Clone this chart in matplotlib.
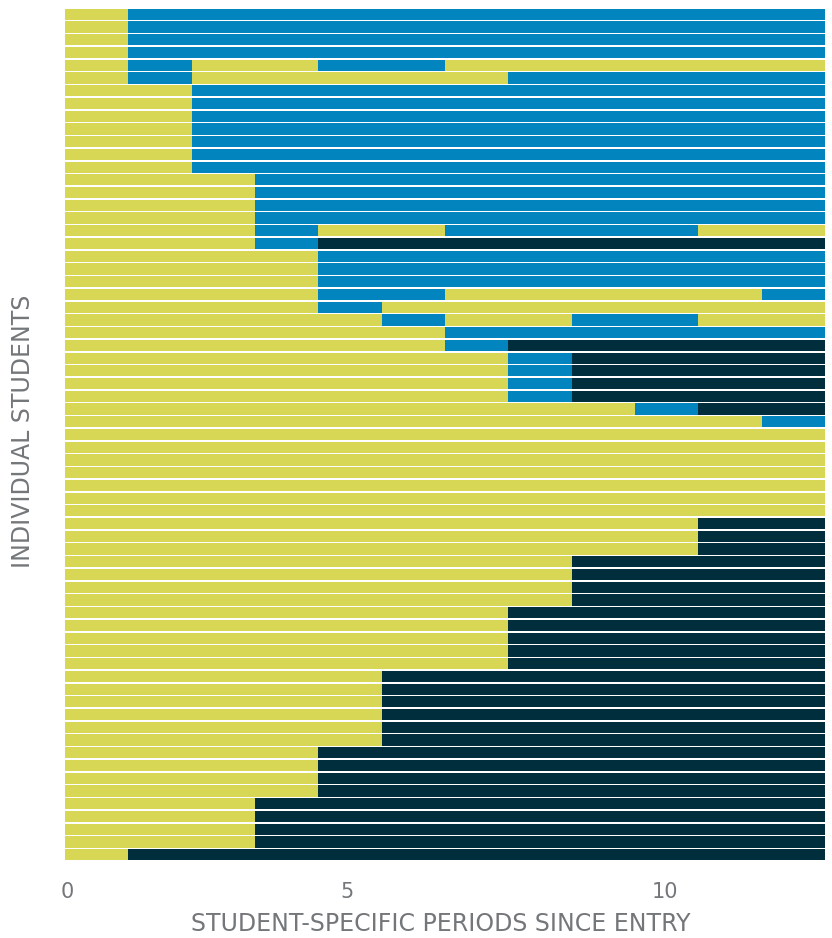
import matplotlib
matplotlib.use("Agg")
import matplotlib.pyplot as plt

# State codes per period: E = enrolled, G = graduated, D = dropped out
sequences = [
    "EGGGGGGGGGGG",
    "EGGGGGGGGGGG",
    "EGGGGGGGGGGG",
    "EGGGGGGGGGGG",
    "EGEEGGEEEEEE",
    "EGEEEEEGGGGG",
    "EEGGGGGGGGGG",
    "EEGGGGGGGGGG",
    "EEGGGGGGGGGG",
    "EEGGGGGGGGGG",
    "EEGGGGGGGGGG",
    "EEGGGGGGGGGG",
    "EEGGGGGGGGGG",
    "EEEGGGGGGGGG",
    "EEEGGGGGGGGG",
    "EEEGGGGGGGGG",
    "EEEGGGGGGGGG",
    "EEEGEEGGGGEE",
    "EEEGDDDDDDDD",
    "EEEEGGGGGGGG",
    "EEEEGGGGGGGG",
    "EEEEGGGGGGGG",
    "EEEEGGEEEEEG",
    "EEEEGEEEEEEE",
    "EEEEEGEEGGEE",
    "EEEEEEGGGGGG",
    "EEEEEEGDDDDD",
    "EEEEEEEGDDDD",
    "EEEEEEEGDDDD",
    "EEEEEEEGDDDD",
    "EEEEEEEGDDDD",
    "EEEEEEEEEGDD",
    "EEEEEEEEEEEG",
    "EEEEEEEEEEEE",
    "EEEEEEEEEEEE",
    "EEEEEEEEEEEE",
    "EEEEEEEEEEEE",
    "EEEEEEEEEEEE",
    "EEEEEEEEEEEE",
    "EEEEEEEEEEEE",
    "EEEEEEEEEEDD",
    "EEEEEEEEEEDD",
    "EEEEEEEEEEDD",
    "EEEEEEEEDDDD",
    "EEEEEEEEDDDD",
    "EEEEEEEEDDDD",
    "EEEEEEEEDDDD",
    "EEEEEEEDDDDD",
    "EEEEEEEDDDDD",
    "EEEEEEEDDDDD",
    "EEEEEEEDDDDD",
    "EEEEEEEDDDDD",
    "EEEEEDDDDDDD",
    "EEEEEDDDDDDD",
    "EEEEEDDDDDDD",
    "EEEEEDDDDDDD",
    "EEEEEDDDDDDD",
    "EEEEEDDDDDDD",
    "EEEEDDDDDDDD",
    "EEEEDDDDDDDD",
    "EEEEDDDDDDDD",
    "EEEEDDDDDDDD",
    "EEEDDDDDDDDD",
    "EEEDDDDDDDDD",
    "EEEDDDDDDDDD",
    "EEEDDDDDDDDD",
    "EDDDDDDDDDDD",
]

state_colors = {"E": "#D8D655", "G": "#0284BE", "D": "#012E3D"}
tick_positions = [0.03, 4.46, 9.48]
tick_labels = ["0", "5", "10"]
x_label = "STUDENT-SPECIFIC PERIODS SINCE ENTRY"
y_label = "INDIVIDUAL STUDENTS"

text_color = "#74777A"
plt.rcParams["font.family"] = ["DejaVu Sans"]

fig = plt.figure(figsize=(8.32, 9.38), dpi=100)
ax = fig.add_axes([65 / 832, 1 - 861 / 938, 760 / 832, 853 / 938])

for row, seq in enumerate(sequences):
    start = 0
    for k in range(1, len(seq) + 1):
        if k == len(seq) or seq[k] != seq[start]:
            ax.barh(row, k - start, left=start, height=0.88,
                    color=state_colors[seq[start]], linewidth=0)
            start = k

n_periods = len(sequences[0])
ax.set_xlim(0, n_periods)
ax.set_ylim(len(sequences) - 0.5, -0.5)

for s in ax.spines.values():
    s.set_visible(False)
ax.set_yticks([])
ax.set_xticks(tick_positions)
ax.set_xticklabels(tick_labels, fontsize=15, color=text_color)
ax.tick_params(axis="x", length=0, pad=15)

fig.text(440.5 / 832, 1 - 931 / 938, x_label, ha="center", va="baseline",
         fontsize=17, color=text_color)
fig.text(23 / 832, 1 - 431.5 / 938, y_label, ha="center", va="center",
         rotation=90, fontsize=17, color=text_color)

fig.savefig("out.png", dpi=100)
